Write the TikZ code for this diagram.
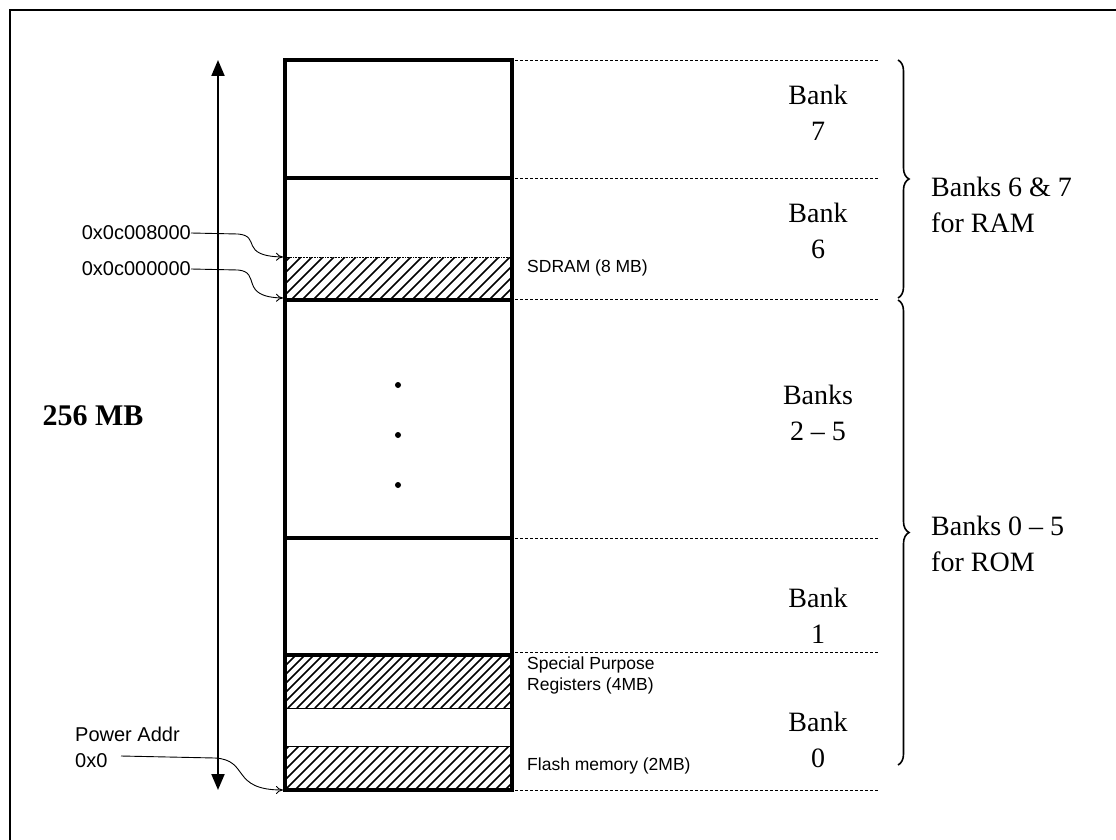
\documentclass[tikz,border=0pt]{standalone}
\usepackage{fontspec}
\setmainfont{Liberation Serif}
\setsansfont{Liberation Sans}
\usetikzlibrary{arrows.meta,decorations.pathreplacing}
\tikzset{
  thick box/.style={line width=4pt},
  thin sep/.style={line width=1pt},
  dashsep/.style={dashed, line width=0.8pt, dash pattern=on 3pt off 2pt},
  hatchline/.style={line width=1.6pt},
  banklabel/.style={font=\fontsize{28}{36}\selectfont, align=center, inner sep=0pt},
  grouplabel/.style={font=\fontsize{28}{36}\selectfont, align=left, inner sep=0pt, anchor=west},
  addrlabel/.style={font=\sffamily\fontsize{20}{26}\selectfont, inner sep=0pt},
  regionlabel/.style={font=\sffamily\fontsize{17.5}{21}\selectfont, inner sep=0pt, anchor=west, align=left},
  addrarrow/.style={line width=0.9pt, -{To[length=7pt,width=8pt]}},
  bracestyle/.style={decorate, decoration={brace, amplitude=11pt}, line width=1.6pt},
}
\newcommand{\hatchbox}[5]{%
  \begin{scope}
    \clip (#1,#2) rectangle (#3,#4);
    \pgfmathsetmacro{\hatchH}{#4-#2}
    \foreach \k in {0,...,45} {
      \draw[hatchline] (#1-60+\k*#5, #4) -- ++(\hatchH,-\hatchH);
    }
  \end{scope}}
\begin{document}
\begin{tikzpicture}[x=1pt,y=-1pt]
\useasboundingbox[fill=white] (0,0) rectangle (1116,840);
% frame
\draw[line width=1.8pt] (10,840) -- (10,10) -- (1116,10);

% hatched regions
\hatchbox{285}{257}{512}{300}{11}
\hatchbox{285}{655}{512}{708}{9}
\hatchbox{285}{746}{512}{790}{10}
\draw[line width=0.6pt, densely dotted] (285,257) -- (512,257);
\draw[thin sep] (285,708) -- (512,708);
\draw[thin sep] (285,746) -- (512,746);

% memory column
\draw[thick box] (285,60) rectangle (512,790);
\draw[thick box] (285,178) -- (512,178);
\draw[thick box] (285,300) -- (512,300);
\draw[thick box] (285,538) -- (512,538);
\draw[thick box] (285,655) -- (512,655);

% dashed separators
\foreach \yy in {60,178,299,538,652,790} {
  \draw[dashsep] (515,\yy) -- (878,\yy);
}

% dots
\foreach \yy in {385,435,485} { \fill (398,\yy) circle (3pt); }

% 256 MB arrow
\coordinate (atop) at (218,60);
\coordinate (abot) at (218,790);
\draw[line width=2pt, {Triangle[length=16pt,width=13pt]}-{Triangle[length=16pt,width=13pt]}] (atop) -- (abot);
\node[font=\bfseries\fontsize{30}{36}\selectfont, inner sep=0pt] (size) at (93,416) {256 MB};

% address labels
\node[addrlabel, anchor=east] (a1) at (191,233) {0x0c008000};
\node[addrlabel, anchor=east] (a2) at (191,269) {0x0c000000};
\coordinate (t1) at (283,257);
\coordinate (t2) at (283,298);
\draw[addrarrow] (a1.east) -- (238,234) .. controls (262,236) and (238,256) .. (t1);
\draw[addrarrow] (a2.east) -- (238,270) .. controls (262,272) and (238,297) .. (t2);

\node[addrlabel, anchor=west, align=left] (pa) at (75,747) {Power Addr\\0x0};
\coordinate (t3) at (283,790);
\draw[addrarrow] (121,756) -- (215,758) .. controls (250,760) and (230,790) .. (t3);

% region labels
\node[regionlabel] (sdram) at (527,268) {SDRAM (8 MB)};
\node[regionlabel] (spr) at (527,675) {Special Purpose\\Registers (4MB)};
\node[regionlabel] (flash) at (527,766) {Flash memory (2MB)};

% bank labels
\node[banklabel] (b7) at (818,113) {Bank\\7};
\node[banklabel] (b6) at (818,231) {Bank\\6};
\node[banklabel] (b25) at (818,413) {Banks\\2 -- 5};
\node[banklabel] (b1) at (818,616) {Bank\\1};
\node[banklabel] (b0) at (818,740) {Bank\\0};

% braces
\draw[bracestyle] (898,60) -- (898,298);
\draw[bracestyle] (898,300) -- (898,765);
\node[grouplabel] (ram) at (931,205) {Banks 6 \& 7\\for RAM};
\node[grouplabel] (rom) at (931,544) {Banks 0 -- 5\\for ROM};
\end{tikzpicture}
\end{document}
